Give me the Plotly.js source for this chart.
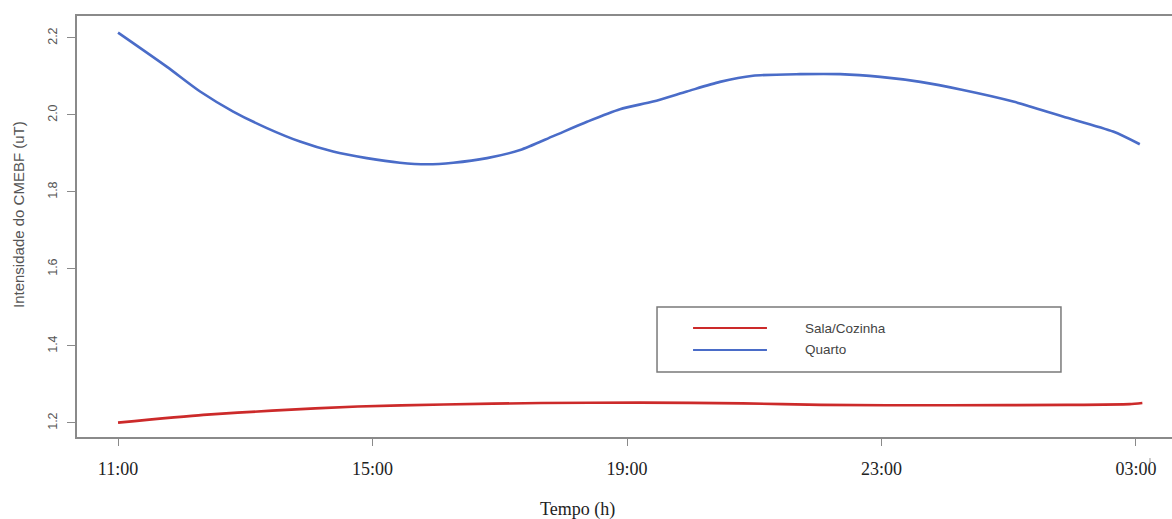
<!DOCTYPE html>
<html>
<head>
<meta charset="utf-8">
<script src="https://cdn.plot.ly/plotly-3.0.1.min.js"></script>
<style>html,body{margin:0;padding:0;background:#fff;}#chart{width:1172px;height:519px;}</style>
</head>
<body>
<div id="chart"></div>
<script>
// Time in hours since midnight (03:00 next day = 27)
const hoursQuarto = [11.0, 11.77, 12.29, 12.81, 13.34, 13.86, 14.38, 14.91, 15.43, 15.86, 16.27, 16.80, 17.32, 17.84, 18.38, 18.89, 19.41, 19.94, 20.46, 20.98, 21.72, 22.35, 22.98, 23.61, 24.28, 25.07, 25.85, 26.64, 27.06];
const quarto = [2.214, 2.125, 2.061, 2.009, 1.966, 1.931, 1.905, 1.888, 1.876, 1.872, 1.876, 1.888, 1.909, 1.945, 1.983, 2.015, 2.035, 2.061, 2.086, 2.102, 2.106, 2.106, 2.099, 2.086, 2.065, 2.035, 1.996, 1.957, 1.924];

const hoursSala = [11.0, 12.34, 13.42, 14.77, 16.12, 17.65, 19.2, 20.82, 22.05, 24.08, 25.92, 26.9, 27.1];
const salaCozinha = [1.201, 1.221, 1.232, 1.243, 1.248, 1.252, 1.253, 1.251, 1.247, 1.246, 1.247, 1.249, 1.252];

const xTickVals = [11, 15, 19, 23, 27];
const xTickText = ['11:00', '15:00', '19:00', '23:00', '03:00'];
const yTickVals = [1.2, 1.4, 1.6, 1.8, 2.0, 2.2];
const yTickText = ['1.2', '1.4', '1.6', '1.8', '2.0', '2.2'];
const seriesNames = ['Sala/Cozinha', 'Quarto'];

const RED = '#cc2a2a';
const BLUE = '#4a6cc8';
const AXIS = '#8a8a8a';

const traces = [
  {x: hoursSala, y: salaCozinha, name: seriesNames[0], type: 'scatter', mode: 'lines',
   line: {color: RED, width: 2.6, shape: 'spline', smoothing: 0.6}, hoverinfo: 'x+y'},
  {x: hoursQuarto, y: quarto, name: seriesNames[1], type: 'scatter', mode: 'lines',
   line: {color: BLUE, width: 2.6, shape: 'spline', smoothing: 0.7}, hoverinfo: 'x+y'}
];

// boxed key drawn in paper coordinates
const legBox = {x0: 0.5297, x1: 0.8986, y0: 0.1544, y1: 0.3088};
const legLine = {x0: 0.5626, x1: 0.6301};
const legRows = [0.2589, 0.2067];
const legColors = [RED, BLUE];

const shapes = [
  {type: 'rect', xref: 'paper', yref: 'paper', x0: legBox.x0, x1: legBox.x1, y0: legBox.y0, y1: legBox.y1,
   line: {color: '#7a7a7a', width: 1.5}, fillcolor: 'rgba(0,0,0,0)'},
  // small stray tick mark at the right end of the x labels
  {type: 'line', xref: 'paper', yref: 'paper', x0: 0.9799, x1: 0.9799, y0: -0.050, y1: -0.062,
   line: {color: '#999', width: 1}}
];
legRows.forEach((yy, i) => shapes.push({type: 'line', xref: 'paper', yref: 'paper',
  x0: legLine.x0, x1: legLine.x1, y0: yy, y1: yy, line: {color: legColors[i], width: 2.2}}));

const annotations = legRows.map((yy, i) => ({
  xref: 'paper', yref: 'paper', x: 0.6630, y: yy, xanchor: 'left', yanchor: 'middle',
  text: seriesNames[i], showarrow: false,
  font: {family: 'Liberation Sans, Arial, sans-serif', size: 13.5, color: '#444'}
}));
annotations.push({
  xref: 'paper', yref: 'paper', x: (577 - 77) / 1095, y: -0.173, xanchor: 'center', yanchor: 'middle',
  text: 'Tempo (h)', showarrow: false,
  font: {family: 'Liberation Serif, Times New Roman, serif', size: 18, color: '#222'}
});
annotations.push({
  xref: 'paper', yref: 'paper', x: (18 - 77) / 1095, y: (437 - 215) / 421, xanchor: 'center', yanchor: 'middle',
  text: 'Intensidade do CMEBF (uT)', showarrow: false, textangle: -90,
  font: {family: 'Liberation Sans, Arial, sans-serif', size: 15, color: '#555'}
});

const layout = {
  width: 1172, height: 519,
  margin: {l: 77, r: 0, t: 16, b: 82},
  paper_bgcolor: '#fff', plot_bgcolor: '#fff',
  showlegend: false,
  xaxis: {
    range: [10.355, 27.566], showgrid: false, zeroline: false,
    showline: true, mirror: true, linecolor: AXIS, linewidth: 1.5,
    ticks: 'outside', ticklen: 7, tickwidth: 1.2, tickcolor: AXIS,
    tickvals: xTickVals, ticktext: xTickText, ticklabelstandoff: 8,
    tickfont: {family: 'Liberation Serif, Times New Roman, serif', size: 18, color: '#222'}
  },
  yaxis: {
    range: [1.1636, 2.2571], showgrid: false, zeroline: false,
    showline: true, mirror: false, linecolor: AXIS, linewidth: 1.5,
    ticks: 'outside', ticklen: 8, tickwidth: 1.2, tickcolor: AXIS,
    tickvals: yTickVals, ticktext: yTickText, tickangle: -90, ticklabelstandoff: 5,
    tickfont: {family: 'Liberation Sans, Arial, sans-serif', size: 12.5, color: '#555'}
  },
  shapes: shapes,
  annotations: annotations
};

Plotly.newPlot('chart', traces, layout, {displayModeBar: false});
</script>
</body>
</html>
